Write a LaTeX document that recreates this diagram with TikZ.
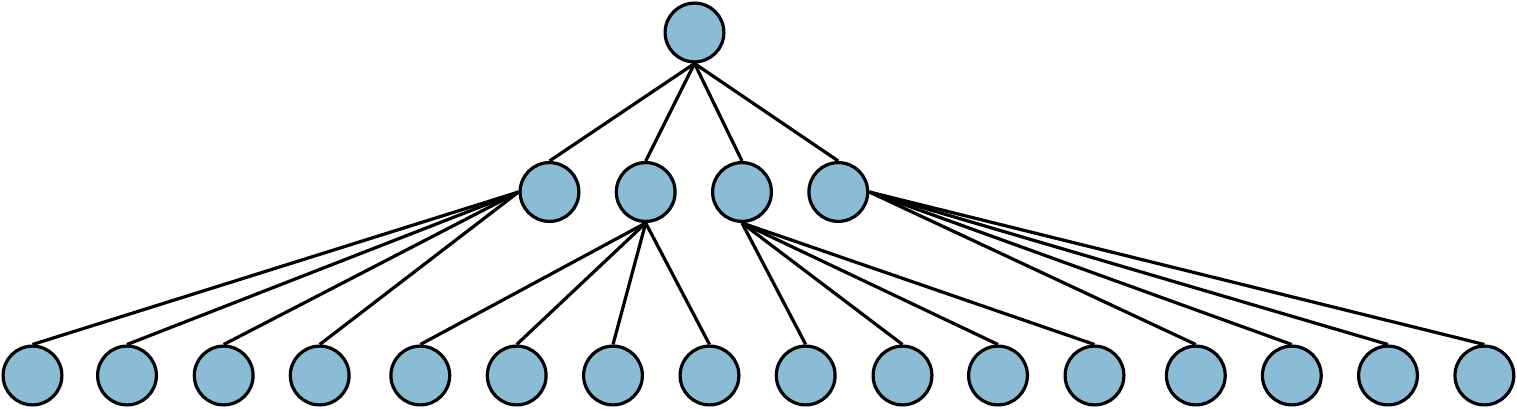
\documentclass[tikz,border=0pt]{standalone}
\definecolor{nodeblue}{RGB}{139,188,213}
\tikzset{
  treenode/.style={circle, draw=black, line width=3.2pt, fill=nodeblue, minimum size=58.8pt, inner sep=0pt},
  edge/.style={draw=black, line width=3.2pt}
}
\begin{document}
\begin{tikzpicture}[x=1pt,y=-1pt]
\useasboundingbox (0,0) rectangle (1517,409);
\node[treenode] (r) at (694.5,32.5) {};
\node[treenode] (a) at (549.5,192) {};
\node[treenode] (b) at (645.7,192) {};
\node[treenode] (c) at (742,192) {};
\node[treenode] (d) at (838.3,192) {};
\foreach \i/\x in {1/32.5,2/127,3/223.7,4/319.7,5/420.3,6/516.7,7/613,8/709.5,9/805.7,10/902.5,11/998,12/1094.5,13/1195.8,14/1291.8,15/1388,16/1484.4}{
  \node[treenode] (l\i) at (\x,375.5) {};
}
\foreach \n in {a,b,c,d}{ \draw[edge] (r.south) -- (\n.north); }
\foreach \i in {1,2,3,4}{ \draw[edge] (a.west) -- (l\i.north); }
\foreach \i in {5,6,7,8}{ \draw[edge] (b.south) -- (l\i.north); }
\foreach \i in {9,10,11,12}{ \draw[edge] (c.south) -- (l\i.north); }
\foreach \i in {13,14,15,16}{ \draw[edge] (d.east) -- (l\i.north); }
\end{tikzpicture}
\end{document}
